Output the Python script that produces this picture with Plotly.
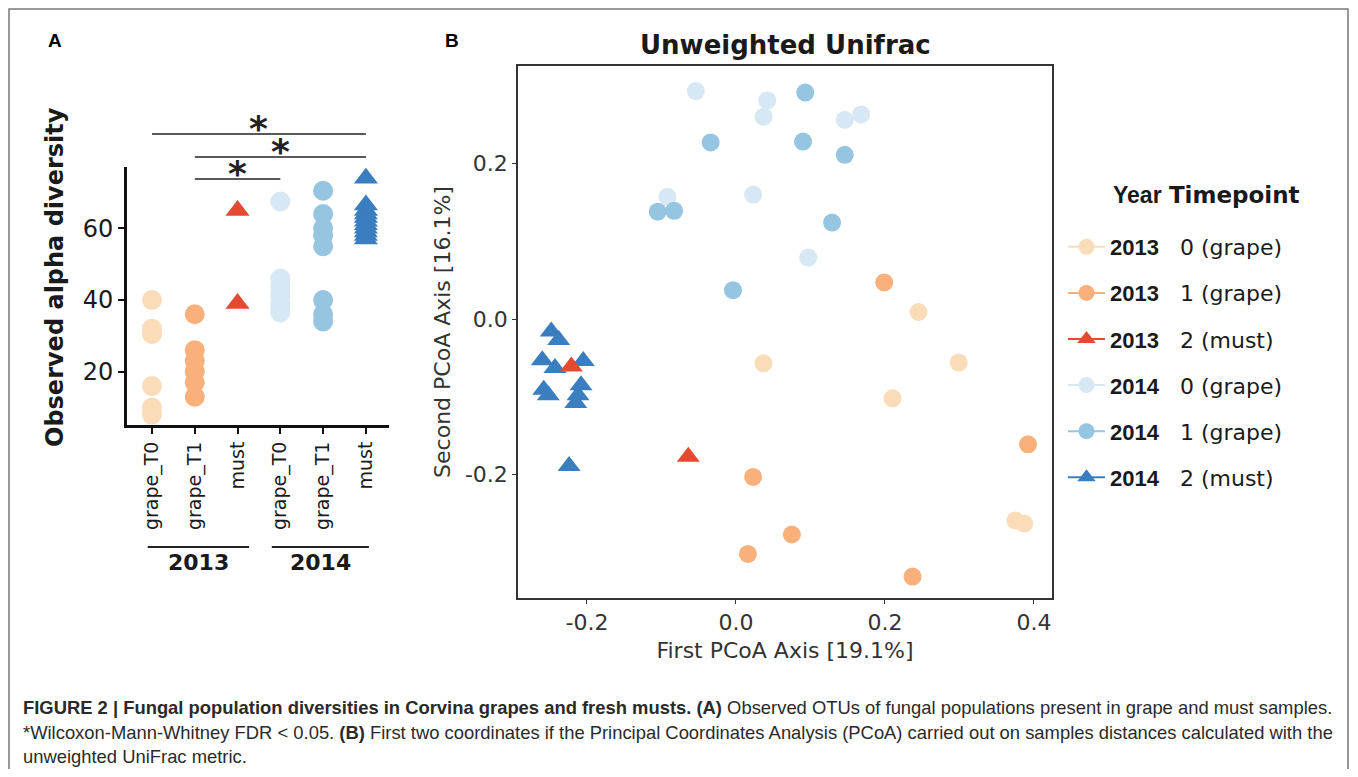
import plotly.graph_objects as go

# page body has an 8px default margin, so the figure is drawn 8px smaller on each side
OFF = 8
W, H = 1358 - 2 * OFF, 777 - 2 * OFF

# ---------------- data ----------------
group_labels = ["grape_T0", "grape_T1", "must", "grape_T0", "grape_T1", "must"]
group_years = ["2013", "2013", "2013", "2014", "2014", "2014"]
timepoints = ["0 (grape)", "1 (grape)", "2 (must)", "0 (grape)", "1 (grape)", "2 (must)"]
colors = ["#fbdcb8", "#f9b07a", "#e44a32", "#d8e7f4", "#95c5e1", "#3a7ec0"]
symbols = ["circle", "circle", "triangle-up", "circle", "circle", "triangle-up"]

# Panel A: observed alpha diversity
alpha_13_t0 = [40, 32, 30.5, 16, 10, 8]
alpha_13_t1 = [36, 26, 23, 20, 17, 13]
alpha_13_must = [65, 39]
alpha_14_t0 = [67.5, 46, 44, 42, 41, 39, 38, 36.5]
alpha_14_t1 = [70.5, 64, 60, 58, 55, 40, 36, 34]
alpha_14_must = [74, 66.5, 65, 64, 63, 62, 61, 60, 59, 58, 57]
alpha_groups = [alpha_13_t0, alpha_13_t1, alpha_13_must, alpha_14_t0, alpha_14_t1, alpha_14_must]
alpha_ticks = [20, 40, 60]

# significance comparisons (group index pairs)
sig_pairs = [(0, 5), (1, 5), (1, 3)]

# Panel B: PCoA unweighted UniFrac
pc1_13_t0 = [0.245, 0.037, 0.299, 0.210, 0.375, 0.387]
pc2_13_t0 = [0.009, -0.057, -0.056, -0.102, -0.259, -0.263]
pc1_13_t1 = [0.199, 0.392, 0.023, 0.075, 0.016, 0.237]
pc2_13_t1 = [0.047, -0.161, -0.203, -0.277, -0.302, -0.331]
pc1_13_must = [-0.221, -0.064]
pc2_13_must = [-0.061, -0.177]
pc1_14_t0 = [-0.054, 0.042, 0.037, 0.146, 0.168, -0.092, 0.023, 0.097]
pc2_14_t0 = [0.293, 0.281, 0.260, 0.256, 0.263, 0.157, 0.160, 0.079]
pc1_14_t1 = [0.093, -0.034, 0.090, 0.146, -0.105, -0.083, 0.129, -0.004]
pc2_14_t1 = [0.291, 0.227, 0.228, 0.211, 0.138, 0.139, 0.124, 0.037]
pc1_14_must = [-0.248, -0.238, -0.260, -0.243, -0.205, -0.258, -0.252, -0.208, -0.212, -0.215, -0.224]
pc2_14_must = [-0.016, -0.027, -0.053, -0.063, -0.054, -0.091, -0.098, -0.085, -0.098, -0.108, -0.189]
pc1_groups = [pc1_13_t0, pc1_13_t1, pc1_13_must, pc1_14_t0, pc1_14_t1, pc1_14_must]
pc2_groups = [pc2_13_t0, pc2_13_t1, pc2_13_must, pc2_14_t0, pc2_14_t1, pc2_14_must]
pc_ticks = [-0.2, 0.0, 0.2, 0.4]
pc_ticktext = ["-0.2", "0.0", "0.2", "0.4"]
pc2_ticks = [-0.2, 0.0, 0.2]
pc2_ticktext = ["-0.2", "0.0", "0.2"]

caption_lines = [
    "<b>FIGURE 2 | Fungal population diversities in Corvina grapes and fresh musts. (A)</b> Observed OTUs of fungal populations present in grape and must samples.",
    "*Wilcoxon-Mann-Whitney FDR &lt; 0.05. <b>(B)</b> First two coordinates if the Principal Coordinates Analysis (PCoA) carried out on samples distances calculated with the",
    "unweighted UniFrac metric.",
]

# ---------------- helpers (window pixel -> paper) ----------------
def px(x):
    return (x - OFF) / W

def py(y):
    return 1 - (y - OFF) / H

DJ = "DejaVu Sans"
TXT = "#1a1a1a"

fig = go.Figure()

# Panel A traces
for i, vals in enumerate(alpha_groups):
    fig.add_trace(go.Scatter(
        x=[i] * len(vals), y=vals, mode="markers",
        marker=dict(symbol=symbols[i], color=colors[i], size=20 if symbols[i] == "circle" else 21,
                    line=dict(width=0)),
        xaxis="x", yaxis="y", showlegend=False, cliponaxis=False,
    ))

# Panel B traces (2014 drawn first so 2013 sits on top)
for i in [3, 4, 5, 0, 1, 2]:
    fig.add_trace(go.Scatter(
        x=pc1_groups[i], y=pc2_groups[i], mode="markers",
        marker=dict(symbol=symbols[i], color=colors[i], size=18 if symbols[i] == "circle" else 20,
                    line=dict(width=0)),
        xaxis="x2", yaxis="y2", showlegend=False,
    ))

# Legend entries
nb = "\u00a0"
for i in range(6):
    fig.add_trace(go.Scatter(
        x=[None], y=[None], mode="lines+markers",
        name=f"<span style='font-family:Liberation Sans'><b>{group_years[i]}</b></span>{nb*3}{timepoints[i]}",
        marker=dict(symbol=symbols[i], color=colors[i], size=16),
        line=dict(color=colors[i], width=2),
        xaxis="x2", yaxis="y2", legendgroup=f"g{i}", showlegend=True,
    ))

shapes = []
annotations = []

# significance bars
sig_y = [134, 157, 179]
for (a, b), yy in zip(sig_pairs, sig_y):
    shapes.append(dict(type="line", xref="x", yref="paper", x0=a, x1=b, y0=py(yy), y1=py(yy),
                       line=dict(color="#222", width=1.6)))
    annotations.append(dict(text="<b>*</b>", xref="x", yref="paper", x=(a + b) / 2, y=py(yy + 17),
                            xanchor="center", yanchor="bottom", showarrow=False,
                            font=dict(family=DJ, size=36, color="#222")))

# year group underlines + labels
for lo, hi, yr in [(-0.1, 2.27, "2013"), (2.8, 5.07, "2014")]:
    shapes.append(dict(type="line", xref="x", yref="paper", x0=lo, x1=hi, y0=py(547), y1=py(547),
                       line=dict(color="#222", width=2)))
    annotations.append(dict(text=f"<b>{yr}</b>", xref="x", yref="paper", x=(lo + hi) / 2, y=py(562),
                            xanchor="center", yanchor="middle", showarrow=False,
                            font=dict(family=DJ, size=22, color=TXT)))

# y-axis title of panel A
annotations.append(dict(text="<b>Observed alpha diversity</b>", xref="paper", yref="paper",
                        x=px(55), y=py(277), textangle=-90, showarrow=False,
                        xanchor="center", yanchor="middle",
                        font=dict(family=DJ, size=24, color=TXT)))

# panel letters
for letter, xx in [("A", 55), ("B", 452)]:
    annotations.append(dict(text=f"<b>{letter}</b>", xref="paper", yref="paper", x=px(xx), y=py(40),
                            showarrow=False, xanchor="center", yanchor="middle",
                            font=dict(family="Liberation Sans", size=19, color="#000")))

# panel B title
annotations.append(dict(text="<b>Unweighted Unifrac</b>", xref="paper", yref="paper",
                        x=px(785), y=py(45), showarrow=False, xanchor="center", yanchor="middle",
                        font=dict(family=DJ, size=26, color=TXT)))

# legend title
annotations.append(dict(text="<span style='font-family:Liberation Sans'><b>Year</b></span> <b>Timepoint</b>",
                        xref="paper", yref="paper", x=px(1111), y=py(195), showarrow=False,
                        xanchor="left", yanchor="middle",
                        font=dict(family=DJ, size=23, color=TXT)))

# caption
for k, (line, yy) in enumerate(zip(caption_lines, [707, 732, 756])):
    annotations.append(dict(text=line, xref="paper", yref="paper", x=px(21), y=py(yy),
                            showarrow=False, xanchor="left", yanchor="middle", align="left",
                            font=dict(family="Liberation Sans", size=18.4, color="#2a2a2a")))

# outer frame
shapes.append(dict(type="rect", xref="paper", yref="paper", x0=px(9), x1=px(1348), y0=py(800), y1=py(9),
                   line=dict(color="#777", width=1.5), layer="below"))

fig.update_layout(
    width=W, height=H, margin=dict(l=0, r=0, t=0, b=0),
    paper_bgcolor="white", plot_bgcolor="white",
    xaxis=dict(domain=[px(127), px(389)], range=[-0.584, 5.54], tickvals=list(range(6)),
               ticktext=group_labels, tickangle=-90, showline=True, linecolor="#111", linewidth=3,
               ticks="outside", ticklen=6, tickwidth=2, tickcolor="#111", showgrid=False,
               zeroline=False, tickfont=dict(family=DJ, size=19, color=TXT), anchor="y"),
    yaxis=dict(domain=[py(425), py(166.7)], range=[5.1, 77.2], tickvals=alpha_ticks,
               showline=True, linecolor="#111", linewidth=3, ticks="outside", ticklen=6,
               tickwidth=2, tickcolor="#111", showgrid=False, zeroline=False,
               tickfont=dict(family=DJ, size=24, color=TXT), anchor="x"),
    xaxis2=dict(domain=[px(518), px(1052)], range=[-0.2926, 0.4242], tickvals=pc_ticks,
                ticktext=pc_ticktext, showline=True, mirror=True, linecolor="#333", linewidth=1.5,
                ticks="outside", ticklen=4, tickcolor="#333", showgrid=False, zeroline=False,
                tickfont=dict(family=DJ, size=22, color="#333"), anchor="y2",
                title=dict(text="First PCoA Axis [19.1%]", font=dict(family=DJ, size=22, color="#333"),
                           standoff=8)),
    yaxis2=dict(domain=[py(598), py(66)], range=[-0.3586, 0.3252], tickvals=pc2_ticks,
                ticktext=pc2_ticktext, showline=True, mirror=True, linecolor="#333", linewidth=1.5,
                ticks="outside", ticklen=4, tickcolor="#333", showgrid=False, zeroline=False,
                tickfont=dict(family=DJ, size=22, color="#333"), anchor="x2",
                title=dict(text="Second PCoA Axis [16.1%]", font=dict(family=DJ, size=22, color="#333"),
                           standoff=8)),
    legend=dict(x=px(1063), y=py(226), xanchor="left", yanchor="top", bgcolor="rgba(0,0,0,0)",
                font=dict(family=DJ, size=22, color=TXT), itemwidth=37, tracegroupgap=14.5,
                traceorder="grouped"),
    shapes=shapes, annotations=annotations,
)

fig.write_html("out.html")
